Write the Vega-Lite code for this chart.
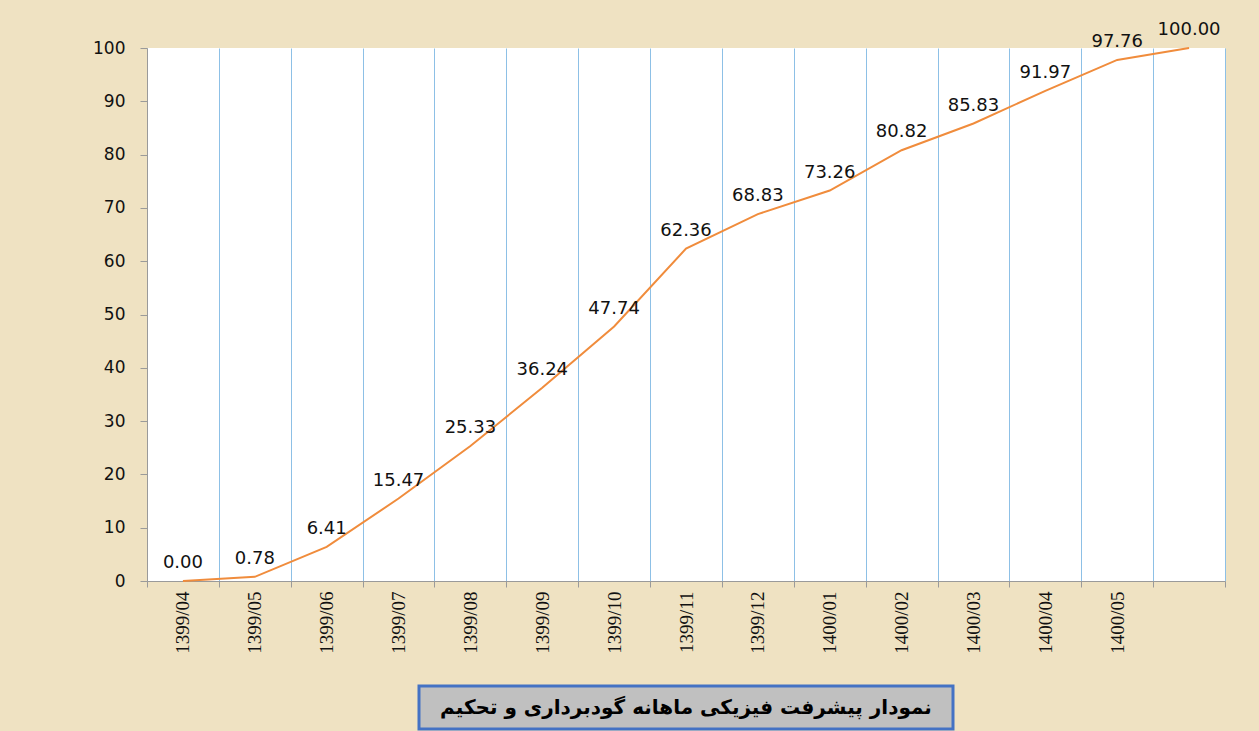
{
  "$schema": "https://vega.github.io/schema/vega-lite/v6.json",
  "background": "#EFE2C2",
  "padding": {"left": 92, "top": 21, "right": 33, "bottom": 1},
  "spacing": 105,
  "bounds": "flush",
  "center": true,
  "vconcat": [
    {
      "width": 1078,
      "height": 533,
      "view": {"fill": "white", "stroke": null},
      "data": {"values": [
        {"m": "1399/04", "v": 0.00},
        {"m": "1399/05", "v": 0.78},
        {"m": "1399/06", "v": 6.41},
        {"m": "1399/07", "v": 15.47},
        {"m": "1399/08", "v": 25.33},
        {"m": "1399/09", "v": 36.24},
        {"m": "1399/10", "v": 47.74},
        {"m": "1399/11", "v": 62.36},
        {"m": "1399/12", "v": 68.83},
        {"m": "1400/01", "v": 73.26},
        {"m": "1400/02", "v": 80.82},
        {"m": "1400/03", "v": 85.83},
        {"m": "1400/04", "v": 91.97},
        {"m": "1400/05", "v": 97.76},
        {"m": " ", "v": 100.00}
      ]},
      "encoding": {
        "x": {"field": "m", "type": "nominal", "sort": null,
          "axis": {"title": null, "labelAngle": -90, "labelFont": "Liberation Sans Narrow", "labelFontSize": 19, "labelColor": "#111111",
            "tickBand": "extent", "grid": true, "gridColor": "#8DC0E6", "gridWidth": 1,
            "domainColor": "#9a9a9a", "tickColor": "#9a9a9a", "tickSize": 6, "labelPadding": 4}},
        "y": {"field": "v", "type": "quantitative", "scale": {"domain": [0, 100], "nice": false},
          "axis": {"title": null, "values": [0, 10, 20, 30, 40, 50, 60, 70, 80, 90, 100], "grid": false,
            "labelFont": "DejaVu Sans", "labelFontSize": 17, "labelColor": "#111111",
            "tickSize": 7, "labelPadding": 15, "domainColor": "#9a9a9a", "tickColor": "#9a9a9a"}}
      },
      "layer": [
        {"mark": {"type": "line", "color": "#F08C3C", "strokeWidth": 2}},
        {"mark": {"type": "text", "dy": -18, "font": "DejaVu Sans", "fontSize": 18, "color": "#111111"},
          "encoding": {"text": {"field": "v", "type": "quantitative", "format": ".2f"}}}
      ]
    },
    {
      "width": 534,
      "height": 43,
      "view": {"fill": "#C0C0C0", "stroke": "#4472C4", "strokeWidth": 3},
      "data": {"values": [{"t": "نمودار پیشرفت فیزیکی ماهانه گودبرداری و تحکیم"}]},
      "mark": {"type": "text", "font": "DejaVu Sans", "fontSize": 20, "fontWeight": "bold", "color": "#000000"},
      "encoding": {"text": {"field": "t", "type": "nominal"}}
    }
  ]
}
